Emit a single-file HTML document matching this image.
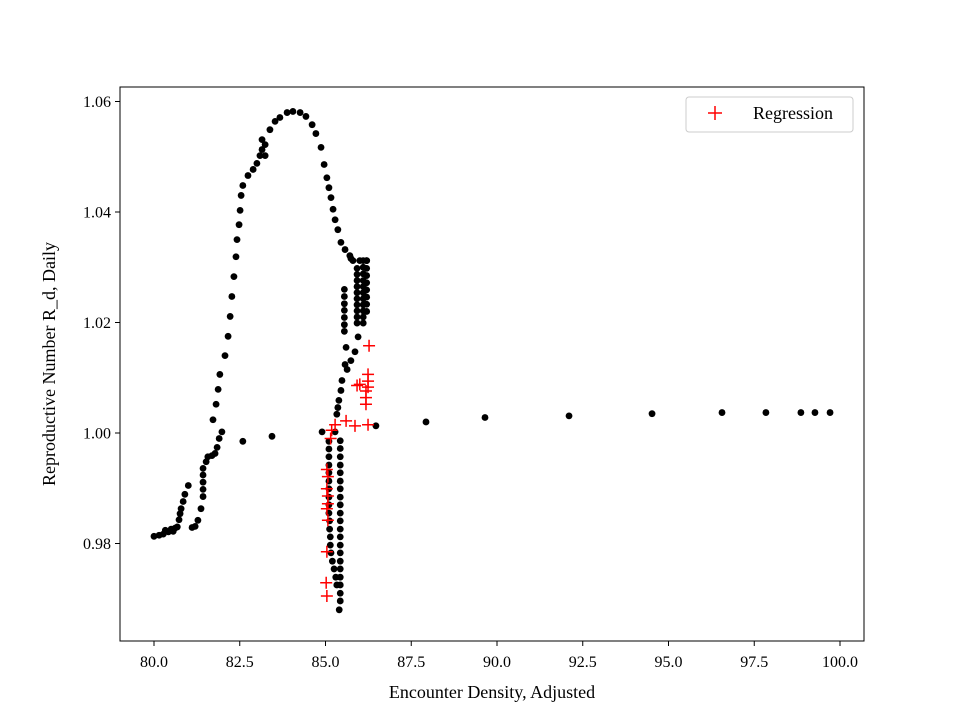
<!DOCTYPE html>
<html><head><meta charset="utf-8"><style>
body{margin:0;background:#fff;}
svg text{font-family:"Liberation Serif",serif;fill:#000;}
</style></head><body>
<svg id="chart" width="960" height="720" xmlns="http://www.w3.org/2000/svg">
<rect x="0" y="0" width="960" height="720" fill="#fff"/>
<g id="marks"></g>
<rect x="120" y="87" width="744" height="554" fill="none" stroke="#000" stroke-width="1"/>
<g id="axes"></g>
<text x="492" y="698" font-size="18" text-anchor="middle">Encounter Density, Adjusted</text>
<text transform="translate(55,364) rotate(-90)" font-size="18" text-anchor="middle">Reproductive Number R_d, Daily</text>
<g>
<rect x="686" y="97" width="167" height="35" rx="3" fill="#fff" stroke="#ccc"/>
<path d="M708 113 h14 M715 106 v14" stroke="red" stroke-width="1.5"/>
<text x="753" y="119" font-size="18">Regression</text>
</g>
</svg>
<script>
const xTicks=[80.0,82.5,85.0,87.5,90.0,92.5,95.0,97.5,100.0];
const yTicks=[0.98,1.00,1.02,1.04,1.06];
const blackX=[80.0,80.15,80.27,80.33,80.42,80.5,80.56,80.62,80.68,80.73,80.76,80.79,80.85,80.9,81.0,81.11,81.2,81.28,81.37,81.43,81.43,81.43,81.43,81.43,81.52,81.57,81.69,81.78,81.84,81.9,81.98,81.72,81.81,81.87,81.92,82.07,82.16,82.22,82.27,82.33,82.39,82.42,82.48,82.51,82.54,82.59,82.74,82.89,83.0,83.09,83.15,83.24,83.15,83.24,83.38,83.53,83.67,83.88,84.05,84.26,84.43,84.61,84.72,84.87,84.96,85.04,85.1,85.16,85.22,85.28,85.36,85.45,85.57,85.71,85.74,85.8,86.0,86.2,
85.55,85.55,85.55,85.55,85.55,85.55,85.55,
85.92,85.92,85.92,85.92,85.92,85.92,85.92,85.92,85.92,85.92,
86.1,86.1,86.1,86.1,86.1,86.1,86.1,86.1,86.1,86.1,86.1,
86.2,86.2,86.2,86.2,86.2,86.2,86.2,86.2,
85.6,85.95,85.86,85.74,85.57,85.63,85.48,85.45,85.39,85.36,85.33,85.28,84.9,86.47,
85.1,85.1,85.1,85.1,85.1,85.1,85.1,85.1,85.1,85.1,85.12,85.12,85.14,85.14,85.16,85.2,85.25,85.3,85.33,
85.43,85.43,85.43,85.43,85.43,85.43,85.43,85.43,85.43,85.43,85.43,85.43,85.43,85.43,85.43,85.43,85.43,85.43,85.43,85.43,85.43,85.4,
82.59,83.44,87.93,89.65,92.1,94.52,96.56,97.84,98.86,99.27,99.71];
const blackY=[0.9813,0.9815,0.9817,0.9824,0.9821,0.9826,0.9822,0.9828,0.9830,0.9843,0.9854,0.9863,0.9876,0.9889,0.9905,0.9829,0.9831,0.9842,0.9863,0.9885,0.9898,0.9911,0.9924,0.9936,0.9948,0.9957,0.9959,0.9963,0.9974,0.9990,1.0002,1.0024,1.0052,1.0079,1.0106,1.0140,1.0175,1.0211,1.0247,1.0283,1.0319,1.0350,1.0377,1.0403,1.0430,1.0448,1.0466,1.0477,1.0488,1.0502,1.0513,1.0502,1.0531,1.0522,1.0549,1.0564,1.0571,1.0580,1.0582,1.0580,1.0573,1.0558,1.0542,1.0517,1.0486,1.0462,1.0444,1.0426,1.0405,1.0386,1.0368,1.0345,1.0332,1.0321,1.0316,1.0312,1.0312,1.0312,
1.0260,1.0247,1.0234,1.0222,1.0209,1.0196,1.0184,
1.0298,1.0287,1.0276,1.0265,1.0254,1.0243,1.0232,1.0221,1.0210,1.0199,
1.0312,1.0300,1.0288,1.0276,1.0265,1.0254,1.0243,1.0232,1.0221,1.0210,1.0199,
1.0312,1.0298,1.0285,1.0272,1.0259,1.0246,1.0233,1.0220,
1.0155,1.0174,1.0147,1.0131,1.0124,1.0115,1.0095,1.0077,1.0059,1.0046,1.0034,1.0002,1.0002,1.0013,
0.9985,0.9971,0.9957,0.9942,0.9928,0.9913,0.9899,0.9884,0.9870,0.9855,0.9841,0.9826,0.9812,0.9797,0.9783,0.9768,0.9754,0.9739,0.9725,
0.9986,0.9972,0.9957,0.9942,0.9928,0.9913,0.9899,0.9884,0.9870,0.9855,0.9841,0.9826,0.9812,0.9797,0.9783,0.9768,0.9754,0.9739,0.9725,0.9710,0.9696,0.9680,
0.9985,0.9994,1.0020,1.0028,1.0031,1.0035,1.0037,1.0037,1.0037,1.0037,1.0037];
const redX=[86.27,86.24,86.24,86.24,86.0,85.92,86.18,86.18,86.18,86.24,85.86,85.6,85.28,85.18,85.15,85.04,85.07,85.04,85.07,85.07,85.04,85.07,85.04,85.02,85.04];
const redY=[1.0158,1.0106,1.0094,1.0083,1.0088,1.0086,1.0076,1.0064,1.0052,1.0015,1.0013,1.0022,1.0015,1.0005,0.9990,0.9934,0.9921,0.9899,0.9886,0.9872,0.9863,0.9842,0.9785,0.9729,0.9705];
const NS="http://www.w3.org/2000/svg";
function sx(v){return 154+(v-80)*34.3;}
function sy(v){return 433-(v-1.0)*5525;}
const marks=document.getElementById('marks');
const axes=document.getElementById('axes');
for(let i=0;i<blackX.length;i++){
  const c=document.createElementNS(NS,'circle');
  c.setAttribute('cx',sx(blackX[i]));c.setAttribute('cy',sy(blackY[i]));c.setAttribute('r',3.4);c.setAttribute('fill','#000');
  
  
  marks.appendChild(c);
}
for(let i=0;i<redX.length;i++){
  const x=sx(redX[i]),y=sy(redY[i]);
  const p=document.createElementNS(NS,'path');
  p.setAttribute('d',`M${x-6} ${y} h12 M${x} ${y-6} v12`);p.setAttribute('stroke','red');p.setAttribute('stroke-width',1.5);
  
  
  marks.appendChild(p);
}
xTicks.forEach(v=>{
  const x=sx(v);
  const l=document.createElementNS(NS,'line');
  l.setAttribute('x1',x);l.setAttribute('x2',x);l.setAttribute('y1',641);l.setAttribute('y2',646);l.setAttribute('stroke','#000');
  
  
  axes.appendChild(l);
  const t=document.createElementNS(NS,'text');
  t.setAttribute('x',x);t.setAttribute('y',667);t.setAttribute('font-size','16');t.setAttribute('text-anchor','middle');
  t.textContent=v.toFixed(1);
  
  
  axes.appendChild(t);
});
yTicks.forEach(v=>{
  const y=sy(v);
  const l=document.createElementNS(NS,'line');
  l.setAttribute('x1',115);l.setAttribute('x2',120);l.setAttribute('y1',y);l.setAttribute('y2',y);l.setAttribute('stroke','#000');
  
  
  axes.appendChild(l);
  const t=document.createElementNS(NS,'text');
  t.setAttribute('x',111);t.setAttribute('y',y+5.5);t.setAttribute('font-size','16');t.setAttribute('text-anchor','end');
  t.textContent=v.toFixed(2);
  
  
  axes.appendChild(t);
});
</script>
</body></html>
